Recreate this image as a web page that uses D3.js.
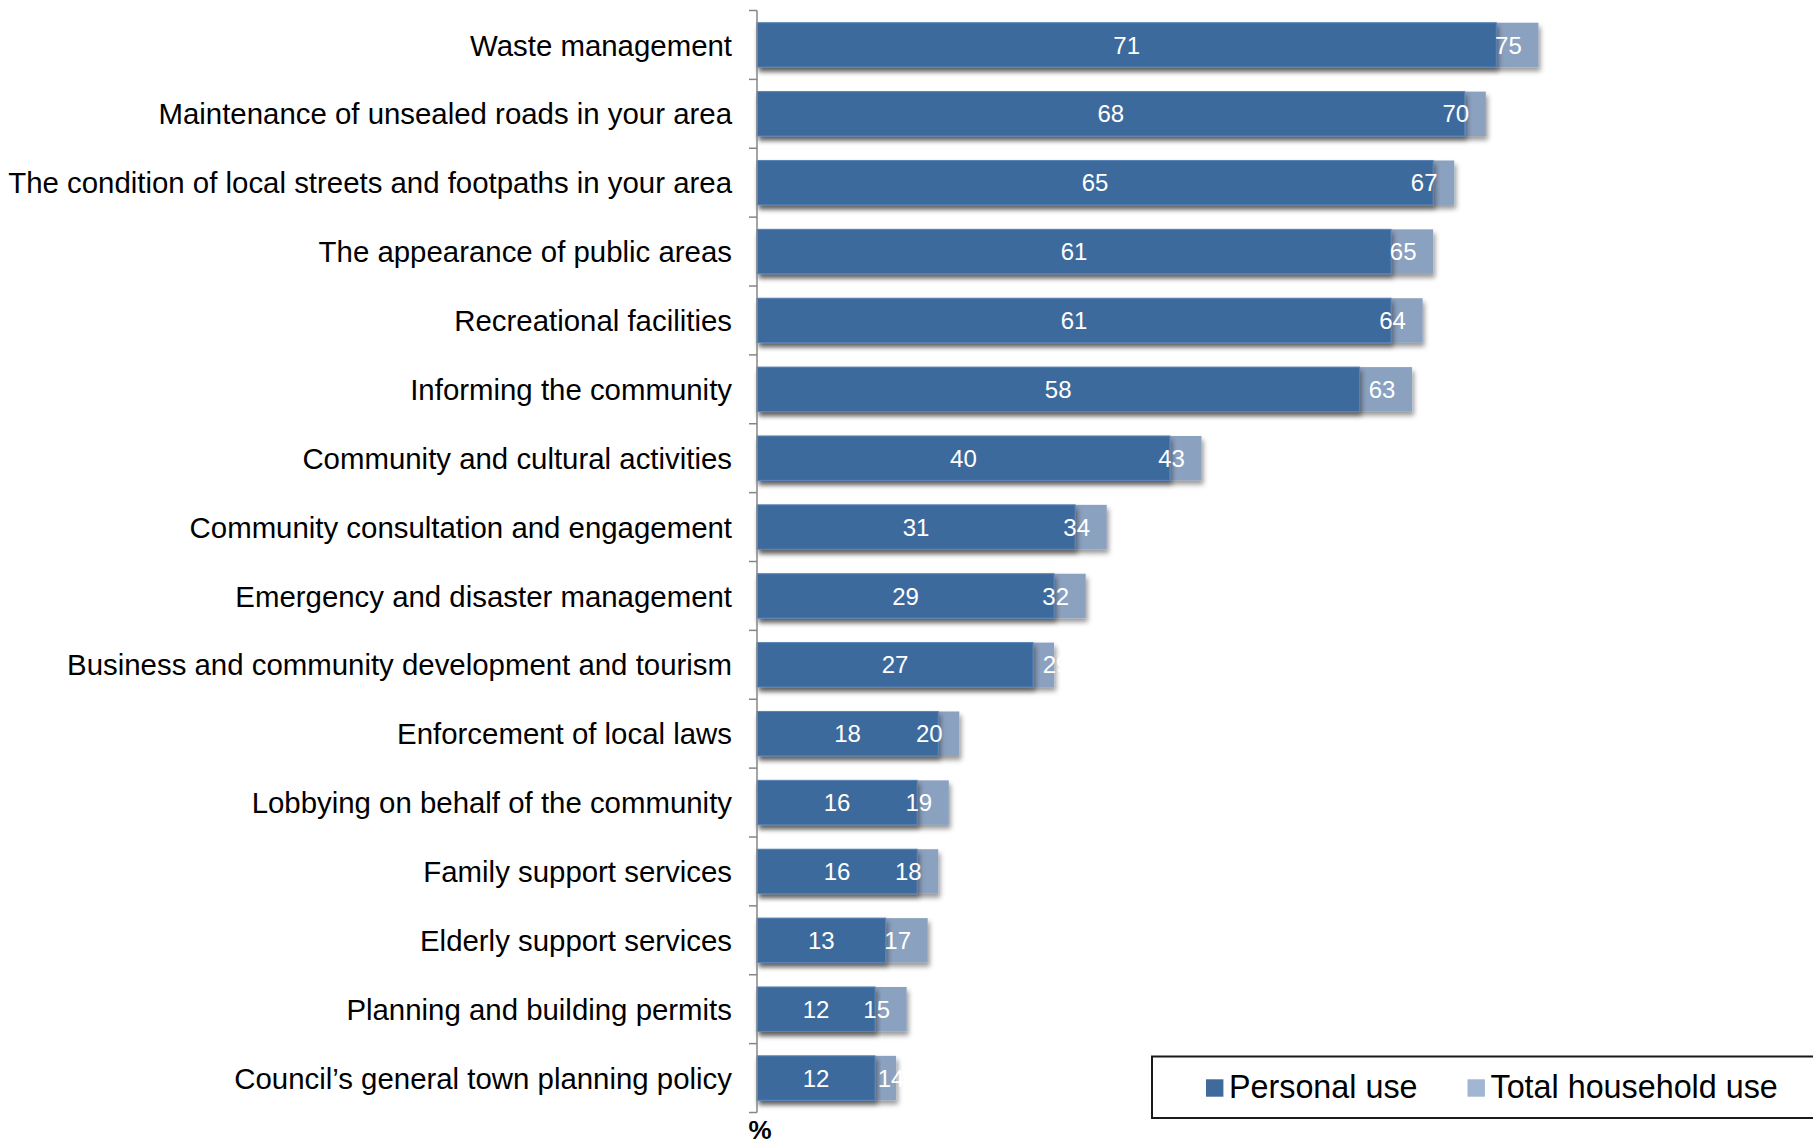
<!DOCTYPE html>
<html>
<head>
<meta charset="utf-8">
<script src="https://cdn.jsdelivr.net/npm/d3@7"></script>
<style>
  html, body { margin: 0; padding: 0; background: #ffffff; }
  svg { display: block; font-family: "Liberation Sans", Arial, sans-serif; }
</style>
</head>
<body>
<svg id="chart" width="1813" height="1146"></svg>
<script>
// Council services used, by area
const categories = [
  "Waste management",
  "Maintenance of unsealed roads in your area",
  "The condition of local streets and footpaths in your area",
  "The appearance of public areas",
  "Recreational facilities",
  "Informing the community",
  "Community and cultural activities",
  "Community consultation and engagement",
  "Emergency and disaster management",
  "Business and community development and tourism",
  "Enforcement of local laws",
  "Lobbying on behalf of the community",
  "Family support services",
  "Elderly support services",
  "Planning and building permits",
  "Council\u2019s general town planning policy"
];
const personalUse = [71, 68, 65, 61, 61, 58, 40, 31, 29, 27, 18, 16, 16, 13, 12, 12];
const householdUse = [75, 70, 67, 65, 64, 63, 43, 34, 32, 29, 20, 19, 18, 17, 15, 14];
const seriesNames = ["Personal use", "Total household use"];
const axisTitle = "%";

const rows = categories.map((c, i) => ({ category: c, personal: personalUse[i], household: householdUse[i] }));

const svg = d3.select("#chart");

const axisX = 757;
const x = d3.scaleLinear().domain([0, 100]).range([748.7, 1801.7]);
const y = d3.scaleBand().domain(categories).range([10.5, 1112.5]).paddingInner(0.355).paddingOuter(0.1775);

const darkBlue = "#3e6a9c";
const lightBlue = "#8ba1c0";
const legendLight = "#a1b6d2";

const defs = svg.append("defs");
const shadow = defs.append("filter").attr("id", "barShadow")
  .attr("x", "-5%").attr("y", "-20%").attr("width", "110%").attr("height", "150%");
shadow.append("feDropShadow").attr("dx", 2).attr("dy", 4).attr("stdDeviation", 2.5)
  .attr("flood-color", "#000").attr("flood-opacity", 0.4);

// Household bars sit behind the personal bars
svg.append("g").selectAll("rect").data(rows).join("rect")
  .attr("x", axisX)
  .attr("y", d => y(d.category))
  .attr("width", d => x(d.household) - axisX)
  .attr("height", y.bandwidth())
  .attr("fill", lightBlue)
  .attr("filter", "url(#barShadow)");

svg.append("g").selectAll("rect").data(rows).join("rect")
  .attr("x", axisX)
  .attr("y", d => y(d.category))
  .attr("width", d => x(d.personal) - axisX)
  .attr("height", y.bandwidth())
  .attr("fill", darkBlue)
  .attr("stroke", "#5a84b8")
  .attr("stroke-width", 1)
  .attr("filter", "url(#barShadow)");

// Value labels (white, so they vanish where they run past a bar)
const labelFont = 24;
svg.append("g").selectAll("text").data(rows).join("text")
  .attr("x", d => (axisX + x(d.personal)) / 2)
  .attr("y", d => y(d.category) + y.bandwidth() / 2)
  .attr("dy", "0.36em")
  .attr("text-anchor", "middle")
  .attr("font-size", labelFont)
  .attr("fill", "#ffffff")
  .text(d => d.personal);

// a couple of household labels were nudged right in the source layout
const householdNudge = {
  "Business and community development and tourism": 32,
  "Council\u2019s general town planning policy": 25
};
svg.append("g").selectAll("text").data(rows).join("text")
  .attr("x", d => x(d.household) - 30 + (householdNudge[d.category] || 0))
  .attr("y", d => y(d.category) + y.bandwidth() / 2)
  .attr("dy", "0.36em")
  .attr("text-anchor", "middle")
  .attr("font-size", labelFont)
  .attr("fill", "#ffffff")
  .text(d => d.household);

// Category axis with ticks between bands
const axisG = svg.append("g");
axisG.append("line")
  .attr("x1", axisX).attr("x2", axisX)
  .attr("y1", y.range()[0]).attr("y2", y.range()[1])
  .attr("stroke", "#868686").attr("stroke-width", 1.5);
const boundaries = d3.range(categories.length + 1).map(i => y.range()[0] + i * y.step());
axisG.selectAll("line.tick").data(boundaries).join("line")
  .attr("class", "tick")
  .attr("x1", axisX - 8).attr("x2", axisX)
  .attr("y1", d => d).attr("y2", d => d)
  .attr("stroke", "#868686").attr("stroke-width", 1.5);

svg.append("g").selectAll("text").data(categories).join("text")
  .attr("x", 732)
  .attr("y", d => y(d) + y.bandwidth() / 2)
  .attr("dy", "0.36em")
  .attr("text-anchor", "end")
  .attr("font-size", 29.4)
  .attr("fill", "#000")
  .text(d => d);

svg.append("text")
  .attr("x", 760).attr("y", 1139)
  .attr("text-anchor", "middle")
  .attr("font-size", 26)
  .attr("font-weight", "bold")
  .attr("fill", "#000")
  .text(axisTitle);

// Legend
const legend = svg.append("g");
legend.append("rect")
  .attr("x", 1152).attr("y", 1056.5)
  .attr("width", 700).attr("height", 61.5)
  .attr("fill", "#fff").attr("stroke", "#1a1a1a").attr("stroke-width", 2);
const legendItems = [
  { name: seriesNames[0], color: darkBlue, sx: 1206 },
  { name: seriesNames[1], color: legendLight, sx: 1467.5 }
];
legendItems.forEach(it => {
  legend.append("rect")
    .attr("x", it.sx).attr("y", 1079.3)
    .attr("width", 17.4).attr("height", 17.4)
    .attr("fill", it.color);
  legend.append("text")
    .attr("x", it.sx + 23).attr("y", 1098)
    .attr("font-size", 32.3)
    .attr("fill", "#000")
    .text(it.name);
});
</script>
</body>
</html>
